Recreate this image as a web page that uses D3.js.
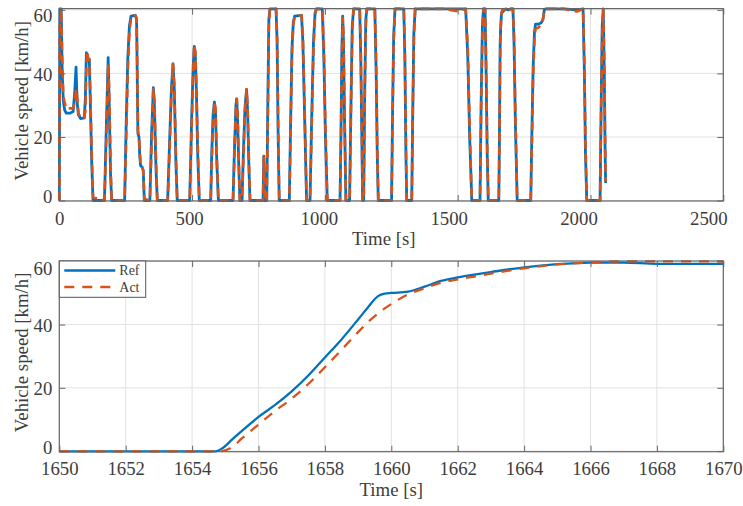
<!DOCTYPE html>
<html><head><meta charset="utf-8">
<script src="https://cdn.jsdelivr.net/npm/d3@7/dist/d3.min.js"></script>
<style>
body{margin:0;background:#fff}
svg text{font-family:"Liberation Serif","Times New Roman",serif !important}
</style>
</head><body>
<svg id="chart" width="743" height="506" font-family="Liberation Serif"></svg>
<script>
// ---------------- DATA ----------------
const seriesNames = ["Ref", "Act"];
const xLabel = "Time [s]";
const yLabel = "Vehicle speed [km/h]";
const yTicks = [0, 20, 40, 60];

// full drive cycle (top panel)
const fullTime = [0,2,7,11,15,20,26,40,52,58,63,67,72,80,94,98,102,105,109,113,117,122,127,
 170,176,184,188,193,197,
 246,252,258,264,270,286,291,294,296,300,303,306,312,316,320,
 341,347,354,358,364,369,
 408,415,422,428,433,439,444,
 491,498,504,508,512,516,521,527,
 570,574,579,584,588,593,599,
 654,659,665,668,671,676,680,
 688,693,699,705,709,714,718,
 767,770,773,
 781,785,789,793,816,820,824,828,
 866,871,876,881,886,912,917,924,931,
 944,950,957,963,968,990,996,1002,1009,
 1057,1061,1064,1067,1070,1074,1079,
 1093,1098,1103,1108,1131,1135,1139,1142,
 1146,1150,1154,1158,1188,1193,1197,1201,
 1251,1255,1259,1264,1297,1301,1305,1308,
 1327,1331,1335,1340,1450,1500,1530,1538,1545,1553,
 1584,1588,1593,1597,1603,1607,1611,1615,
 1654.7,1657,1659,1660,1662,1665,1668,1680,1690,1700,1708,1712,1717,1724,
 1775,1779,1784,1789,1793,1805,1815,1821,1826,1831,1900,1950,1972,1977,1981,1986,
 2036,2040,2044,2048,2052,2055,2057];
const fullRef = [0,60.3,60.3,40,31.5,28.5,27.5,27.5,28,34,42,31,27,25.8,26,32,46.5,46,44,44.5,30,12,0,
 0,20,45,30,8,0,
 0,25,45,55,58,58.3,57,35,21,20,14,11,10.5,9.5,0,
 0,20,35.5,30,10,0,
 0,18,35,43,35,12,0,
 0,25,42,48.5,46,35,15,0,
 0,15,27,31,28,12,0,
 0,15,30,32,26,10,0,
 0,15,29,35,28,10,0,
 0,14,0,
 0,30,57,60.3,60.3,50,20,0,
 0,25,48,56,58,58.3,50,25,0,
 0,25,50,59,60.3,60.3,45,20,0,
 0,25,48,58,50,25,0,
 0,30,55,60.3,60.3,45,20,0,
 0,35,57,60.3,60.3,40,15,0,
 0,30,52,60.3,60.3,45,15,0,
 0,30,53,60.3,60.3,60.3,60.3,45,20,0,
 0,30,55,60.3,60.3,40,15,0,
 0,18.9,41.4,50,54.9,59.1,59.2,60.3,60,60.3,60.3,50,25,0,
 0,20,42,53,55.5,55.5,56,57,60,60.3,60.3,60,60.3,40,15,0,
 0,30,55,60.3,40,15,5.5];
const fullAct = [0,55,60.3,45,33,31,29,29,29,31,35,33,27.5,26,26,28,42,47,44.5,44.5,34,15,1,
 0,16,43,35,12,0,
 0,20,41,53,57.5,58.3,57.5,40,22,20,16,11,10.5,9.5,0.5,
 0,16,35,32,13,0,
 0,15,33,43,37,14,0,
 0,22,40,49,47,37,18,0,
 0,12,25,31,29,14,0,
 0,13,29,32,28,12,0,
 0,13,28,35,30,12,0,
 0,14,0,
 0,25,55,60.3,60.3,52,24,0,
 0,22,46,55.5,58,58.3,52,28,0,
 0,22,48,58.5,60.3,60.3,48,23,0,
 0,22,45,57.5,52,28,0,
 0,27,53,60.3,60.3,48,23,0,
 0,32,55,60.3,60.3,43,18,0,
 0,27,50,60.3,60.3,48,18,0,
 0,27,51,60.3,60.3,59.6,60.3,48,23,0,
 0,27,53,60.3,60.3,43,18,0,
 0,16.6,37.6,46.6,54.3,59,60,60,59.3,60.3,60.3,52,28,0,
 0,17,39,51,54,54.5,55.5,57,59.5,60.3,60.3,59.5,60.3,43,18,0,
 0,27,52,60.3,44,20,6];

// zoomed window (bottom panel)
const zoomTime = [1650,1654.7,1654.9,1655.2,1655.5,1656,1656.5,1657,1657.5,1658,1658.5,1659,1659.3,1659.6,1659.8,1660,1660.5,1661,1661.5,1662,1662.5,1663,1664,1665,1666,1667,1668,1669,1670];
const zoomRef  = [-0.1,-0.1,0.8,3.6,6.4,10.8,14.6,18.9,23.9,29.6,35.3,41.6,45.5,49.0,49.8,50.0,50.4,52.0,53.8,54.9,55.8,56.6,58.1,59.1,59.6,59.6,59.2,59.2,59.2];
const zoomAct  = [-0.1,-0.1,0.0,1.2,4.0,8.4,12.7,16.6,21.2,26.5,32.0,37.6,40.8,43.5,45.1,46.5,49.5,51.5,53.2,54.3,55.2,56.1,57.8,59.0,59.6,60.0,60.0,60.0,60.0];

const fullXTicks = [0,500,1000,1500,2000,2500];
const zoomXTicks = [1650,1652,1654,1656,1658,1660,1662,1664,1666,1668,1670];

// ---------------- DRAW ----------------
const svg = d3.select("#chart");
svg.append("rect").attr("width",743).attr("height",506).attr("fill","#fff");
const BLUE = "#0072BD", ORANGE = "#D95319";
const TEXT = "#3d3d3d", AXIS = "#666", GRID = "#e2e2e2";
const FONT = "Liberation Serif, Times New Roman, serif";
const FS = 18.8;

function panel(cfg) {
  const L = 59.3, R = 723.3, T = cfg.top, B = cfg.bottom;
  const x = d3.scaleLinear().domain(cfg.xDomain).range([L, R]);
  const y = d3.scaleLinear().domain(cfg.yDomain).range([B, T]);
  const xl = d3.scaleLinear().domain(cfg.xDomain).range([L, R - cfg.labelShrink]);
  const g = svg.append("g");

  // grid
  g.append("g").selectAll("line").data(cfg.xTicks).join("line")
    .attr("x1", d => x(d)).attr("x2", d => x(d)).attr("y1", T).attr("y2", B)
    .attr("stroke", GRID).attr("stroke-width", 1);
  g.append("g").selectAll("line").data(yTicks).join("line")
    .attr("x1", L).attr("x2", R).attr("y1", d => y(d)).attr("y2", d => y(d))
    .attr("stroke", GRID).attr("stroke-width", 1);

  // lines
  const idx = d3.range(cfg.time.length);
  const lineRef = d3.line().x(i => x(cfg.time[i])).y(i => y(cfg.ref[i])).curve(cfg.curve);
  const lineAct = d3.line().x(i => x(cfg.time[i])).y(i => y(cfg.act[i])).curve(cfg.curve);
  g.append("path").attr("d", lineRef(idx)).attr("fill","none").attr("stroke",BLUE)
    .attr("stroke-width", cfg.wRef).attr("stroke-linejoin","round");
  g.append("path").attr("d", lineAct(idx)).attr("fill","none").attr("stroke",ORANGE)
    .attr("stroke-width", cfg.wAct).attr("stroke-dasharray", cfg.dash).attr("stroke-linejoin","round");

  // axes (ticks inside, all four sides)
  const styleAxis = sel => {
    sel.attr("font-family", FONT).attr("font-size", FS);
    sel.select(".domain").remove();
    sel.selectAll(".tick line").attr("stroke", AXIS).attr("stroke-width", 1);
  };
  const ax = g.append("g").attr("transform",`translate(0,${B})`)
    .call(d3.axisBottom(x).tickValues(cfg.xTicks).tickSize(-6).tickSizeOuter(0).tickFormat(d3.format("d")))
    .call(styleAxis);
  ax.selectAll(".tick text")
    .attr("y", 17).attr("dy","0.35em")
    .attr("dx", d => xl(d) - x(d))
    .attr("fill", TEXT);
  g.append("g").attr("transform",`translate(0,${T})`)
    .call(d3.axisTop(x).tickValues(cfg.xTicks).tickSize(-6).tickFormat(""))
    .call(styleAxis);
  const ay = g.append("g").attr("transform",`translate(${L},0)`)
    .call(d3.axisLeft(y).tickValues(yTicks).tickSize(-6).tickFormat(d3.format("d")))
    .call(styleAxis);
  ay.selectAll(".tick text")
    .attr("x", -7).attr("dy","0.35em")
    .attr("y", d => Math.max(T + 6.5, Math.min(B - 5, y(d))) - y(d))
    .attr("fill", TEXT);
  g.append("g").attr("transform",`translate(${R},0)`)
    .call(d3.axisRight(y).tickValues(yTicks).tickSize(-6).tickFormat(""))
    .call(styleAxis);

  // box
  g.append("rect").attr("x", L).attr("y", T).attr("width", R - L).attr("height", B - T)
    .attr("fill","none").attr("stroke", AXIS).attr("stroke-width", 1.2);

  // titles
  g.append("text").attr("x", (L + R - cfg.labelShrink) / 2).attr("y", B + 37.5).attr("dy","0.35em")
    .attr("text-anchor","middle").attr("fill", TEXT).attr("font-family", FONT).attr("font-size", FS).text(xLabel);
  g.append("text").attr("transform",`translate(21,${(T + B) / 2 - 4}) rotate(-90)`).attr("dy","0.35em")
    .attr("text-anchor","middle").attr("fill", TEXT).attr("font-family", FONT).attr("font-size", FS).text(yLabel);

  // legend
  if (cfg.legend) {
    const lg = g.append("g");
    lg.append("rect").attr("x", L).attr("y", T).attr("width", 86.4).attr("height", 36.3)
      .attr("fill","#fff").attr("stroke", "#555").attr("stroke-width", 1);
    const rows = [
      {name: seriesNames[0], color: BLUE, dash: null, w: cfg.wRef},
      {name: seriesNames[1], color: ORANGE, dash: cfg.dash, w: cfg.wAct}
    ];
    rows.forEach((r, i) => {
      const yy = T + 9.5 + i * 16.5;
      lg.append("line").attr("x1", L + 5).attr("x2", L + 56).attr("y1", yy).attr("y2", yy)
        .attr("stroke", r.color).attr("stroke-width", r.w).attr("stroke-dasharray", r.dash);
      lg.append("text").attr("x", L + 60).attr("y", yy).attr("dy","0.33em")
        .attr("fill", TEXT).attr("font-family", FONT).attr("font-size", 14).text(r.name);
    });
  }
}

panel({top: 8.6, bottom: 201, xDomain: [0, 2500], yDomain: [-0.15, 60.4], xTicks: fullXTicks,
  labelShrink: 15, time: fullTime, ref: fullRef, act: fullAct, curve: d3.curveLinear,
  wRef: 2.8, wAct: 2.6, dash: "9,5", legend: false});
panel({top: 261, bottom: 451.7, xDomain: [1650, 1670], yDomain: [-0.2, 60.1], xTicks: zoomXTicks,
  labelShrink: 0, time: zoomTime, ref: zoomRef, act: zoomAct, curve: d3.curveMonotoneX,
  wRef: 2.3, wAct: 2.3, dash: "10,8", legend: true});
</script>
</body></html>
